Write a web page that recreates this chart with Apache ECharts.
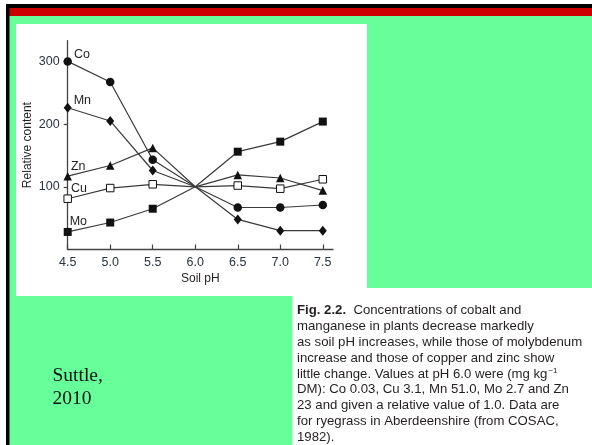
<!DOCTYPE html>
<html>
<head>
<meta charset="utf-8">
<script src="https://cdn.jsdelivr.net/npm/echarts@6/dist/echarts.min.js"></script>
<style>
html,body{margin:0;padding:0;background:#fff;}
#c{width:592px;height:445px;}
</style>
</head>
<body>
<div id="c"></div>
<script>
// ---- data ----
const pH = [4.5, 5.0, 5.5, 6.0, 6.5, 7.0, 7.5];
const Co = [300, 267, 143, 100, 67, 67, 71];
const Mn = [226, 205, 126, 100, 48, 30, 30];
const Zn = [117, 134, 162, 100, 119, 114, 94];
const Cu = [81, 98, 104, 100, 102, 97, 112];
const Mo = [28, 43, 65, 100, 156, 172, 204];
const xTicks = [4.5, 5.0, 5.5, 6.0, 6.5, 7.0, 7.5];
const yTicks = [100, 200, 300];
const refPH = 6.0; // reference point (value 1.0 -> 100), drawn without a marker
const captionLines = [
  "manganese in plants decrease markedly",
  "as soil pH increases, while those of molybdenum",
  "increase and those of copper and zinc show",
  "little change. Values at pH 6.0 were (mg kg",
  "DM): Co 0.03, Cu 3.1, Mn 51.0, Mo 2.7 and Zn",
  "23 and given a relative value of 1.0. Data are",
  "for ryegrass in Aberdeenshire (from COSAC,",
  "1982)."
];

const INK = '#231f20';
const FONT = '"Liberation Sans", Arial, Helvetica, sans-serif';
const CAP = 13.2;

function withLabel(arr, name, off){
  return arr.map((v, i) => {
    const item = {value: [pH[i], v]};
    if (pH[i] === refPH) item.symbol = 'none';
    if (i === 0) item.label = {show: true, formatter: name, position: 'right', distance: 2, offset: off,
          color: INK, fontSize: 12.5, fontFamily: FONT};
    return item;
  });
}
const lineStyle = {color: '#3a3a3a', width: 1.2};
function series(name, arr, symbol, size, off, fill){
  return {
    name, type: 'line', data: withLabel(arr, name, off),
    symbol, symbolSize: size, showSymbol: true,
    lineStyle, itemStyle: {color: fill || '#111', borderColor: '#111', borderWidth: fill ? 1 : 0},
    z: 3, animation: false
  };
}

const chart = echarts.init(document.getElementById('c'), null, {renderer: 'canvas'});

const graphics = [
  {type:'rect', shape:{x:0,y:0,width:592,height:445}, style:{fill:'#66ff99'}, z:-10},
  {type:'rect', shape:{x:0,y:0,width:592,height:4}, style:{fill:'#ffffff'}, z:-9},
  {type:'rect', shape:{x:6,y:4,width:586,height:4}, style:{fill:'#000'}, z:-9},
  {type:'rect', shape:{x:9,y:8,width:583,height:8}, style:{fill:'#cc0000'}, z:-9},
  {type:'rect', shape:{x:6,y:4,width:3.5,height:441}, style:{fill:'#000'}, z:-9},
  {type:'rect', shape:{x:0,y:4,width:6,height:441}, style:{fill:'#ffffff'}, z:-9},
  {type:'rect', shape:{x:16,y:24,width:351,height:272}, style:{fill:'#ffffff'}, z:-8},
  {type:'rect', shape:{x:292.5,y:288,width:300,height:157}, style:{fill:'#ffffff'}, z:-8},
  {type:'text', left:52.5, top:365, style:{text:'Suttle,\n2010', fill:'#111', font:'19.5px "Liberation Serif", "Times New Roman", serif', lineHeight:22.5}, z:5},
  {type:'text', left:297, top:304, style:{
      text:'{b|Fig. 2.2.}{n|  Concentrations of cobalt and}',
      rich:{b:{fontWeight:'bold', fontSize:CAP, fontFamily:FONT, fill:INK}, n:{fontSize:CAP, fontFamily:FONT, fill:INK}}
  }, z:5}
];
captionLines.forEach((t, i) => {
  const top = 304 + 15.8*(i+1);
  if (i === 3) {
    graphics.push({type:'text', left:297, top, style:{
      text:'{n|' + t + '}{s|−1}',
      rich:{n:{fontSize:CAP, fontFamily:FONT, fill:INK}, s:{fontSize:8, fontFamily:FONT, fill:INK, verticalAlign:'top', padding:[0,0,6,1]}}
    }, z:5});
  } else {
    graphics.push({type:'text', left:297, top, style:{text:t, fontSize:CAP, fontFamily:FONT, fill:INK}, z:5});
  }
});

chart.setOption({
  animation: false,
  grid: {left: 67.7, right: 259, top: 40.7, bottom: 195.5, containLabel: false},
  graphic: graphics,
  xAxis: {
    type: 'value', min: 4.5, max: 7.62, interval: 0.5,
    name: 'Soil pH', nameLocation: 'middle', nameGap: 23,
    nameTextStyle: {color: INK, fontSize: 12, fontFamily: FONT},
    axisLine: {show: true, lineStyle: {color: '#444', width: 1.3}},
    axisTick: {show: true, inside: true, length: 5, customValues: xTicks, lineStyle: {color: '#444', width: 1.2}},
    axisLabel: {customValues: xTicks, color: '#2a3340', fontSize: 12.5, fontFamily: FONT, margin: 7,
                formatter: v => v.toFixed(1)},
    splitLine: {show: false}
  },
  yAxis: {
    type: 'value', min: 0, max: 333, interval: 100,
    name: 'Relative content', nameLocation: 'middle', nameGap: 34, nameRotate: 90,
    nameTextStyle: {color: INK, fontSize: 12, fontFamily: FONT},
    axisLine: {show: true, lineStyle: {color: '#444', width: 1.3}},
    axisTick: {show: true, inside: false, length: 4, customValues: yTicks, lineStyle: {color: '#444', width: 1.2}},
    axisLabel: {customValues: yTicks, color: '#2a3340', fontSize: 12.5, fontFamily: FONT, margin: 8},
    splitLine: {show: false}
  },
  series: [
    series('Co', Co, 'circle', 8.5, [0, -7]),
    series('Mn', Mn, 'diamond', [8, 10], [0, -7]),
    series('Zn', Zn, 'triangle', 8.5, [-3, -10]),
    series('Cu', Cu, 'rect', 7.5, [-3, -10], '#ffffff'),
    series('Mo', Mo, 'rect', 8, [-4, -10])
  ]
});
</script>
</body>
</html>
